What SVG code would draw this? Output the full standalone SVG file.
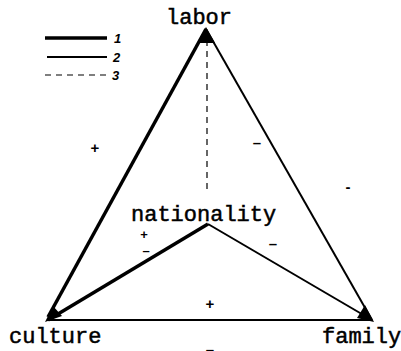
<svg xmlns="http://www.w3.org/2000/svg" width="401" height="351" viewBox="0 0 401 351">
<style>
.lbl{font-family:"Liberation Mono","DejaVu Sans Mono",monospace;font-size:22px;fill:#000;stroke:#000;stroke-width:0.5}
.sg{font-family:"Liberation Sans",Arial,sans-serif;font-size:15px;font-weight:bold;fill:#000;text-anchor:middle}
.sm{font-size:13px}
.num{font-family:"Liberation Sans",Arial,sans-serif;font-size:13px;font-style:italic;font-weight:bold;fill:#000}
.l1{stroke:#000;stroke-width:3.5;fill:none}
.l2{stroke:#000;stroke-width:2;fill:none}
.l3{stroke:#000;stroke-width:1.2;stroke-dasharray:6,5;fill:none}
</style>
<g id="legend">
<line class="l1" x1="45" y1="38" x2="107" y2="38"/>
<text class="num" x="114" y="43">1</text>
<line class="l2" x1="47" y1="57" x2="107" y2="57"/>
<text class="num" x="113" y="62">2</text>
<line class="l3" x1="45" y1="75" x2="110" y2="75"/>
<text class="num" x="112" y="80">3</text>
</g>
<g id="connectors">
<line class="l1" x1="48" y1="317" x2="206" y2="29"/>
<line class="l2" x1="206" y1="29" x2="372" y2="320"/>
<line class="l2" x1="48" y1="320" x2="372" y2="320"/>
<line class="l1" x1="48" y1="320" x2="208" y2="224"/>
<line class="l2" x1="208" y1="224" x2="372" y2="320"/>
<line class="l3" x1="207" y1="40" x2="207" y2="193"/>
<path d="M206,27 L197,43 L215,43 z" fill="#000"/>
<path d="M45,322 L53,306 L62,316 z" fill="#000"/>
<path d="M374,322 L357,318 L365,305 z" fill="#000"/>
</g>
<g id="labor"><text class="lbl" x="166" y="24">labor</text></g>
<g id="nationality"><text class="lbl" x="131" y="221">nationality</text></g>
<g id="culture"><text class="lbl" x="9" y="343">culture</text></g>
<g id="family"><text class="lbl" x="322" y="343">family</text></g>
<g id="signs">
<text class="sg" x="95" y="153">+</text>
<text class="sg" x="257" y="148">–</text>
<text class="sg" x="348" y="192">-</text>
<text class="sg sm" x="144" y="239">+</text>
<text class="sg sm" x="146" y="255">–</text>
<text class="sg" x="273" y="249">–</text>
<text class="sg" x="210" y="309">+</text>
<text class="sg" x="210" y="355">–</text>
</g>
</svg>
